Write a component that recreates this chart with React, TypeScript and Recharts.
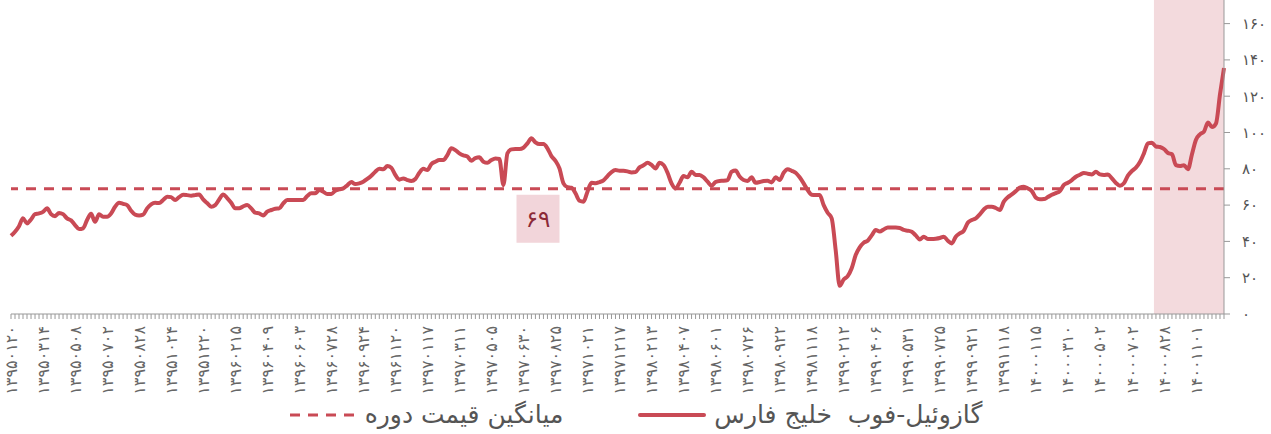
import { LineChart, Line, XAxis, YAxis, ReferenceLine, ReferenceArea } from 'recharts'

// weekly gasoil FOB Persian Gulf price, every 8th week labelled
const tickDates = [
  '13950120', '13950314', '13950508', '13950702', '13950828', '13951024', '13951220',
  '13960215', '13960409', '13960603', '13960728', '13960924', '13961120',
  '13970117', '13970311', '13970505', '13970630', '13970825', '13971021', '13971217',
  '13980213', '13980407', '13980601', '13980726', '13980922', '13981118',
  '13990212', '13990406', '13990531', '13990725', '13990921', '13991118',
  '14000115', '14000310', '14000502', '14000702', '14000828', '14001101',
]

const prices = [
  43.1, 45.3, 48.4, 52.7, 49.9, 52.1, 55.0, 55.4, 56.3, 58.2,
  55.0, 53.9, 55.7, 55.0, 52.7, 51.6, 49.0, 46.8, 47.2, 51.8,
  55.2, 50.8, 55.0, 53.6, 53.6, 55.4, 59.1, 61.3, 60.7, 60.0,
  56.9, 54.7, 54.3, 54.7, 58.2, 60.4, 61.3, 61.1, 62.8, 64.6,
  64.4, 62.8, 64.4, 65.7, 65.5, 65.2, 65.5, 65.9, 63.1, 61.1,
  59.1, 60.0, 63.1, 65.9, 63.9, 61.3, 58.2, 58.2, 59.3, 60.0,
  58.2, 55.8, 55.4, 54.3, 56.4, 57.3, 58.0, 58.2, 60.9, 62.8,
  62.8, 62.8, 62.8, 62.8, 65.0, 66.5, 66.5, 68.3, 67.4, 66.1,
  66.1, 67.9, 68.7, 69.2, 70.9, 72.7, 71.6, 72.0, 72.9, 74.4,
  76.2, 78.4, 80.0, 79.7, 81.5, 80.6, 76.6, 74.0, 74.7, 73.8,
  73.3, 74.4, 77.8, 80.0, 79.3, 82.6, 83.9, 84.8, 84.8, 87.6,
  91.3, 90.3, 88.5, 87.4, 86.8, 84.4, 85.9, 86.3, 83.9, 83.3,
  84.8, 85.7, 85.4, 71.0, 88.5, 90.7, 90.9, 90.9, 91.6, 94.0,
  96.8, 94.6, 93.6, 93.6, 91.3, 87.0, 84.4, 80.2, 72.0, 69.9,
  69.6, 66.5, 62.4, 61.9, 67.4, 72.3, 72.1, 72.7, 73.6, 76.0,
  78.2, 79.3, 78.9, 78.9, 78.6, 78.0, 78.2, 80.8, 81.9, 83.3,
  82.1, 80.2, 83.3, 82.1, 77.8, 72.0, 69.2, 72.3, 76.0, 75.3,
  78.4, 76.6, 76.6, 75.3, 72.9, 70.7, 72.7, 73.3, 73.4, 73.8,
  78.4, 79.0, 75.8, 73.8, 73.3, 75.3, 72.3, 72.7, 73.3, 73.4,
  72.5, 75.3, 73.8, 77.8, 79.7, 78.9, 77.8, 75.3, 72.0, 68.3,
  65.7, 65.5, 65.5, 60.0, 55.8, 52.7, 35.2, 15.5, 19.0, 20.9,
  25.2, 32.5, 36.7, 39.3, 40.4, 43.3, 46.3, 45.5, 46.6, 47.7,
  47.6, 47.6, 47.4, 46.3, 45.9, 45.3, 43.3, 41.1, 42.6, 41.3,
  41.3, 41.5, 41.9, 42.6, 40.4, 38.9, 42.6, 44.4, 45.9, 50.3,
  51.8, 52.7, 54.9, 57.6, 59.1, 59.1, 58.4, 57.3, 61.9, 64.3,
  65.9, 67.7, 69.6, 70.1, 69.2, 67.7, 64.1, 63.2, 63.3, 64.4,
  65.7, 66.6, 67.7, 71.1, 72.3, 73.8, 75.6, 76.7, 77.7, 77.3,
  76.9, 78.4, 76.9, 76.6, 76.9, 74.7, 72.2, 70.7, 72.0, 76.2,
  78.8, 80.6, 83.7, 88.5, 94.0, 94.4, 92.3, 92.0, 90.9, 88.7,
  88.0, 82.0, 81.5, 82.0, 79.8, 88.0, 96.0, 99.0, 100.5, 105.5,
  103.0, 105.0, 121.0, 135.5,
]

const periodAverage = 69
const highlightFrom = 285.5
const labelEvery = 8
const yTicks = [0, 20, 40, 60, 80, 100, 120, 140, 160]

const seriesName = 'گازوئیل-فوب  خلیج فارس'
const averageName = 'میانگین قیمت دوره'

const RED = '#c94a55'
const FONT = '"DejaVu Sans", sans-serif'

const fa = (v: number | string) => String(v).replace(/[0-9]/g, d => '۰۱۲۳۴۵۶۷۸۹'[Number(d)])

const data = prices.map((price, i) => ({ i, price }))
const xTicks = prices.map((_, i) => i)

function DateTick({ x, y, payload }: any) {
  const i = payload.value as number
  if (i % labelEvery !== 0) return <g />
  return (
    <text
      x={x} y={y} dy="0.35em"
      transform={`rotate(-90, ${x}, ${y})`}
      textAnchor="end" fontSize={16} fill="#666" fontFamily={FONT}
    >
      {fa(tickDates[i / labelEvery])}
    </text>
  )
}

function AvgLabel({ viewBox }: any) {
  if (!viewBox) return null
  const cx = viewBox.x + 527
  const top = viewBox.y + 6
  return (
    <g>
      <rect x={cx - 21.5} y={top} width={43} height={48} fill="#f2d5da" />
      <text x={cx} y={top + 24} dy="0.35em" textAnchor="middle" fontSize={23} fill="#8c2a38" fontFamily={FONT}>
        {fa(periodAverage)}
      </text>
    </g>
  )
}

export default function App() {
  return (
    <div style={{ position: 'absolute', left: 0, top: 0, width: 1271, height: 434, background: '#fff' }}>
      <LineChart width={1271} height={434} data={data} margin={{ top: 0, right: 0, bottom: 40, left: 11 }}>
        <ReferenceArea x1={highlightFrom} x2={prices.length - 1} fill="#f3dadd" fillOpacity={1} stroke="none" />
        <XAxis
          dataKey="i" type="number" domain={[0, prices.length - 1]}
          ticks={xTicks} interval={0} height={80}
          stroke="#999" tickSize={5} tickMargin={7}
          tick={<DateTick />}
        />
        <YAxis
          orientation="right" width={47} domain={[0, 173]} ticks={yTicks}
          stroke="#999" tickSize={6} tickMargin={12}
          tick={{ fontSize: 15, fill: '#555', fontFamily: FONT }}
          tickFormatter={v => fa(v)}
        />
        <ReferenceLine
          y={periodAverage} stroke={RED} strokeWidth={3} strokeDasharray="10 8"
          label={<AvgLabel />}
        />
        <Line
          type="monotone" dataKey="price" stroke={RED} strokeWidth={4}
          dot={false} isAnimationActive={false}
        />
      </LineChart>

      {/* legend */}
      <div style={{
        position: 'absolute', left: 0, top: 400, width: 1271, display: 'flex',
        justifyContent: 'center', alignItems: 'center', gap: 75,
        fontFamily: FONT, fontSize: 25, color: '#555',
      }}>
        <div style={{ display: 'flex', alignItems: 'center', gap: 8 }}>
          <svg width={68} height={6}>
            <line x1={1} y1={3} x2={67} y2={3} stroke={RED} strokeWidth={3} strokeDasharray="10 8" />
          </svg>
          <span dir="rtl">{averageName}</span>
        </div>
        <div style={{ display: 'flex', alignItems: 'center', gap: 8 }}>
          <svg width={68} height={6}>
            <line x1={2} y1={3} x2={66} y2={3} stroke={RED} strokeWidth={4} strokeLinecap="round" />
          </svg>
          <span dir="rtl" style={{ whiteSpace: 'pre' }}>{seriesName}</span>
        </div>
      </div>
    </div>
  )
}
